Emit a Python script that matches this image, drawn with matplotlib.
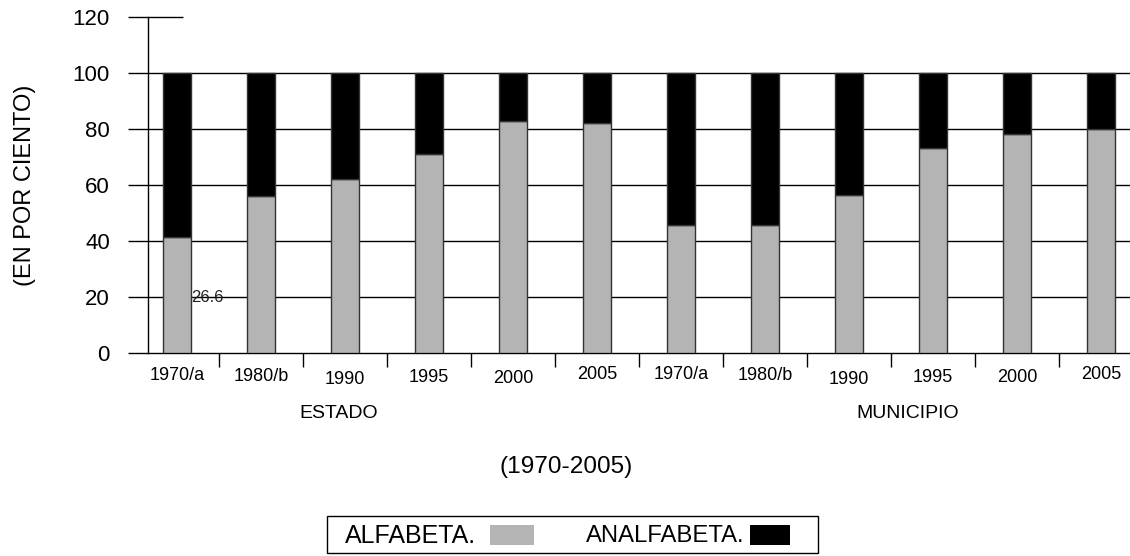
import matplotlib
matplotlib.use("Agg")
import matplotlib.pyplot as plt
from matplotlib.patches import Rectangle
from matplotlib.transforms import blended_transform_factory

plt.rcParams["font.family"] = ["Liberation Sans", "DejaVu Sans"]

# data (percent of population 15+)
years = ["1970/a", "1980/b", "1990", "1995", "2000", "2005",
         "1970/a", "1980/b", "1990", "1995", "2000", "2005"]
groups = ["ESTADO", "MUNICIPIO"]
alfabeta = [41.4, 56.2, 62.1, 71.0, 82.8, 82.1,
            45.7, 45.7, 56.4, 73.2, 78.3, 80.0]
analfabeta = [100 - v for v in alfabeta]
note_value = "26.6"

# the year labels in the original sit at slightly uneven heights (px from top)
label_y_px = [375, 376.5, 380, 378, 378.5, 374.5,
              374.5, 375.5, 379.5, 377.5, 377.5, 374.5]

W, H = 1130, 556
fig = plt.figure(figsize=(W / 100, H / 100), dpi=100)
# axes: left spine at x=148px, zero at y=353px, 120 at y=17px
ax = fig.add_axes([148 / W, 1 - 353 / H, (W - 148) / W, (353 - 17) / H])

x = list(range(len(years)))
gray = "#b4b4b4"
ax.bar(x, alfabeta, width=0.33, color=gray, edgecolor="#333333", linewidth=1, zorder=3)
ax.bar(x, analfabeta, width=0.33, bottom=alfabeta, color="black",
       edgecolor="#333333", linewidth=1, zorder=3)

ax.set_xlim(-0.345, 11.345)
ax.set_ylim(0, 120)

# horizontal rules (no full rule at 120, only a short stub)
for yv in [20, 40, 60, 80, 100]:
    ax.axhline(yv, color="black", linewidth=1, zorder=1)
ax.hlines(120, -0.345, 0.07, color="black", linewidth=1, clip_on=False)
ax.set_yticks([0, 20, 40, 60, 80, 100, 120])
ax.tick_params(axis="y", direction="out", length=14.4, width=1, pad=13, labelsize=16)

for s in ["top", "right"]:
    ax.spines[s].set_visible(False)
ax.spines["left"].set_linewidth(1)
ax.spines["bottom"].set_linewidth(1)

# category separators
ax.set_xticks([i + 0.5 for i in range(len(years) - 1)])
ax.set_xticklabels([])
ax.tick_params(axis="x", direction="out", length=10, width=1)

tr = blended_transform_factory(ax.transData, fig.transFigure)
for i, lab in enumerate(years):
    ax.text(i, 1 - label_y_px[i] / H, lab, transform=tr, fontsize=13,
            ha="center", va="center")

ax.text(0.17, 20, note_value, fontsize=12, va="center", ha="left", color="#222222", zorder=4)

ax.set_ylabel("(EN POR CIENTO)", fontsize=17)
ax.yaxis.set_label_coords(-112 / (W - 148), 0.5)

fig.text(339 / W, 1 - 413 / H, groups[0], fontsize=14, ha="center", va="center")
fig.text(908 / W, 1 - 413 / H, groups[1], fontsize=14, ha="center", va="center")
fig.text(566 / W, 1 - 467 / H, "(1970-2005)", fontsize=17.6, ha="center", va="center")

# legend drawn by hand: label first, swatch after
def px_rect(x0, y0, x1, y1, **kw):
    return Rectangle((x0 / W, 1 - y1 / H), (x1 - x0) / W, (y1 - y0) / H,
                     transform=fig.transFigure, **kw)

fig.patches.append(px_rect(327, 516, 818, 553, facecolor="white", edgecolor="black", linewidth=1))
fig.text(345 / W, 1 - 536 / H, "ALFABETA.", fontsize=18, ha="left", va="center")
fig.patches.append(px_rect(490, 525, 534, 545, facecolor=gray, edgecolor=gray, linewidth=0))
fig.text(744 / W, 1 - 536 / H, "ANALFABETA.", fontsize=17.2, ha="right", va="center")
fig.patches.append(px_rect(750, 525, 790, 545, facecolor="black", edgecolor="black", linewidth=0))

fig.savefig("out.png", dpi=100)
